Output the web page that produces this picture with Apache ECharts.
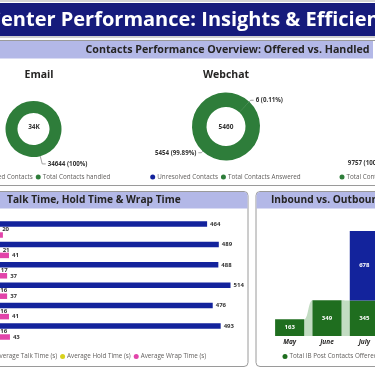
<!DOCTYPE html>
<html><head><meta charset="utf-8">
<script src="https://cdn.jsdelivr.net/npm/echarts@6/dist/echarts.min.js"></script>
<style>html,body{margin:0;padding:0;background:#fff}#c{width:375px;height:375px}</style>
</head><body><div id="c"></div>
<script>
// ---------- data ----------
const emailCats = ['Unresolved Contacts', 'Total Contacts handled'];
const emailValues = [0, 34644];
const webchatCats = ['Unresolved Contacts', 'Total Contacts Answered'];
const webchatValues = [6, 5454];
const thirdCats = ['Total Contacts Answered'];
const thirdValues = [9757];

const timeCats = ['May', 'June', 'July', 'August', 'September', 'October'];
const talkTime = [464, 489, 488, 514, 476, 493];
const holdTime = [20, 21, 17, 16, 16, 16];
const wrapTime = [28, 41, 37, 37, 41, 43];

const monthCats = ['May', 'June', 'July'];
const ibOffered = [163, 349, 345];
const obOffered = [0, 0, 678];

// ---------- style ----------
const FONT = '"Open Sans", "Noto Sans", sans-serif';
const NAVY = '#13239c', GREEN = '#2e7d3a', BARGREEN = '#1f6e1f', PINK = '#e244aa', YELLOW = '#d8d21c';
const HEAD = '#b3b8e7', TXT = '#252423', LEG = '#605e5c', BORDER = '#9a9a9a';

function measure(t, font) {
  const c = document.createElement('canvas').getContext('2d');
  c.font = font; return c.measureText(t).width;
}
const titleFont = 'bold 20px "Open Sans"';
const titleLeft = 1 - measure('Contact C', titleFont);

const chart = echarts.init(document.getElementById('c'), null, {renderer: 'canvas'});

const pieLabel = {fontSize: 6.2, fontWeight: 'bold', color: '#333', fontFamily: FONT, formatter: '{c} ({d}%)'};
const pieLine = {lineStyle: {color: '#8a8a8a', width: 0.8}};
const legStyle = {fontSize: 6.3, color: LEG, fontFamily: FONT, padding: [0, 0, 0, -3]};
const legBase = {icon: 'circle', itemWidth: 5, itemHeight: 5, itemGap: 3, padding: 0, textStyle: legStyle, selectedMode: false, width: 600, orient: 'horizontal'};

function pieData(cats, vals, colors) {
  return cats.map((n, i) => ({name: n, value: vals[i], itemStyle: {color: colors[i]},
    label: vals[i] === 0 ? {show: false} : undefined, labelLine: vals[i] === 0 ? {show: false} : undefined}));
}

const ribbonData = ibOffered.slice(0, -1).map((v, i) => [i, v, ibOffered[i + 1]]);

const option = {
  animation: false,
  textStyle: {fontFamily: FONT},
  graphic: [
    {type: 'rect', shape: {x: 0, y: 0, width: 375, height: 2}, style: {fill: '#d4d4d4'}},
    {type: 'rect', shape: {x: 0, y: 3, width: 375, height: 33}, style: {fill: '#161b7c'}},
    {type: 'rect', shape: {x: 0, y: 36, width: 375, height: 2}, style: {fill: '#cfcfcf'}},
    {type: 'text', x: titleLeft, y: 20, style: {text: 'Contact Center Performance: Insights & Efficiency', font: titleFont, fill: '#fff', verticalAlign: 'middle'}},
    {type: 'rect', shape: {x: 0, y: 40, width: 375, height: 1}, style: {fill: BORDER}},
    {type: 'rect', shape: {x: 0, y: 41, width: 373, height: 17.5}, style: {fill: HEAD}},
    {type: 'text', x: 227.5, y: 50, style: {text: 'Contacts Performance Overview: Offered vs. Handled', font: 'bold 10.7px "Open Sans"', fill: TXT, align: 'center', verticalAlign: 'middle'}},
    {type: 'text', x: 39, y: 75, style: {text: 'Email', font: 'bold 10.5px "Open Sans"', fill: TXT, align: 'center', verticalAlign: 'middle'}},
    {type: 'text', x: 226, y: 75, style: {text: 'Webchat', font: 'bold 10.5px "Open Sans"', fill: TXT, align: 'center', verticalAlign: 'middle'}},
    {type: 'text', x: 34, y: 127, style: {text: Math.floor(emailValues.reduce((a, b) => a + b, 0) / 1000) + 'K', font: 'bold 6.5px "Open Sans"', fill: '#333', align: 'center', verticalAlign: 'middle'}},
    {type: 'text', x: 226, y: 127, style: {text: String(webchatValues.reduce((a, b) => a + b, 0)), font: 'bold 6.5px "Open Sans"', fill: '#333', align: 'center', verticalAlign: 'middle'}},
    {type: 'rect', shape: {x: 0, y: 185, width: 375, height: 1}, style: {fill: BORDER}},
    // bottom panels
    {type: 'rect', shape: {x: -6, y: 191.5, width: 254, height: 175, r: 4}, style: {fill: 'none', stroke: BORDER, lineWidth: 1}},
    {type: 'rect', shape: {x: -5.5, y: 192, width: 253, height: 16.5, r: [3.5, 3.5, 0, 0]}, style: {fill: HEAD}},
    {type: 'text', x: 7, y: 200.5, style: {text: 'Talk Time, Hold Time & Wrap Time', font: 'bold 10.2px "Open Sans"', fill: TXT, verticalAlign: 'middle'}},
    {type: 'rect', shape: {x: 256, y: 191.5, width: 130, height: 175, r: 4}, style: {fill: 'none', stroke: BORDER, lineWidth: 1}},
    {type: 'rect', shape: {x: 256.5, y: 192, width: 129, height: 16.5, r: [3.5, 3.5, 0, 0]}, style: {fill: HEAD}},
    {type: 'text', x: 271, y: 200.5, style: {text: 'Inbound vs. Outbound Contacts', font: 'bold 10.2px "Open Sans"', fill: TXT, verticalAlign: 'middle'}}
  ],
  legend: [
    Object.assign({data: emailCats, left: -35, top: 174}, legBase),
    Object.assign({data: webchatCats, left: 150.2, top: 174}, legBase),
    Object.assign({data: thirdCats, left: 339.5, top: 174}, legBase),
    Object.assign({data: ['Average Talk Time (s)', 'Average Hold Time (s)', 'Average Wrap Time (s)'], left: -11.5, top: 353.5}, legBase),
    Object.assign({data: ['Total IB Post Contacts Offered', 'Total OB Post Contacts Offered'], left: 282.5, top: 353.5}, legBase)
  ],
  grid: [
    {left: -10.2, top: 219.3, width: 281, height: 122.4, outerBoundsMode: 'none', containLabel: false},
    {left: 271, top: 223, width: 112, height: 113, outerBoundsMode: 'none', containLabel: false}
  ],
  xAxis: [
    {gridIndex: 0, type: 'value', min: 0, max: 600, show: false},
    {gridIndex: 1, type: 'category', data: monthCats, axisLine: {show: false}, axisTick: {show: false},
      axisLabel: {fontSize: 6.5, fontWeight: 'bold', fontStyle: 'italic', color: TXT, margin: 3}}
  ],
  yAxis: [
    {gridIndex: 0, type: 'category', data: timeCats, inverse: true, show: false},
    {gridIndex: 1, type: 'value', min: 0, max: 1100, show: false}
  ],
  series: [
    {type: 'pie', name: 'Email', center: [33.5, 129], radius: [16, 28], startAngle: 104, data: pieData(emailCats, emailValues, [NAVY, GREEN]),
      label: Object.assign({distanceToLabelLine: 2}, pieLabel), labelLine: Object.assign({length: 8, length2: 3.5}, pieLine)},
    {type: 'pie', name: 'Webchat', center: [226, 126.5], radius: [19.5, 34], startAngle: 47, data: pieData(webchatCats, webchatValues, [NAVY, GREEN]),
      label: Object.assign({distanceToLabelLine: 2}, pieLabel), labelLine: Object.assign({length: 2, length2: 3}, pieLine)},
    {type: 'pie', name: 'Other', center: [425, 127], radius: [19.5, 34], startAngle: 60, data: pieData(thirdCats, thirdValues, [GREEN]),
      label: Object.assign({distanceToLabelLine: 2}, pieLabel), labelLine: Object.assign({length: 8, length2: 18}, pieLine)},

    {type: 'bar', name: 'Average Talk Time (s)', xAxisIndex: 0, yAxisIndex: 0, data: talkTime, barWidth: 5.5, barGap: '0%', itemStyle: {color: NAVY},
      label: {show: true, position: 'right', distance: 3, fontSize: 6, fontWeight: 'bold', color: '#333'}},
    {type: 'bar', name: 'Average Hold Time (s)', xAxisIndex: 0, yAxisIndex: 0, data: holdTime, barWidth: 5.5, barGap: '0%', itemStyle: {color: YELLOW},
      label: {show: true, position: 'right', distance: 3, fontSize: 6, fontWeight: 'bold', color: '#333'}},
    {type: 'bar', name: 'Average Wrap Time (s)', xAxisIndex: 0, yAxisIndex: 0, barWidth: 5.5, barGap: '0%', itemStyle: {color: PINK},
      data: wrapTime.map((v, i) => i === 0 ? {value: v, label: {show: false}} : v),
      label: {show: true, position: 'right', distance: 3, fontSize: 6, fontWeight: 'bold', color: '#333'}},

    {type: 'custom', xAxisIndex: 1, yAxisIndex: 1, data: ribbonData, z: 1, silent: true,
      renderItem: function (params, api) {
        const i = api.value(0);
        const a = api.coord([i, api.value(1)]);
        const b = api.coord([i + 1, api.value(2)]);
        const base = api.coord([i, 0])[1];
        const bw = api.size([1, 0])[0] * 0.78;
        const x1 = a[0] + bw / 2, x2 = b[0] - bw / 2, xm = (x1 + x2) / 2;
        return {type: 'path', shape: {pathData: 'M' + x1 + ',' + a[1] + ' C' + xm + ',' + a[1] + ' ' + xm + ',' + b[1] + ' ' + x2 + ',' + b[1] + ' L' + x2 + ',' + base + ' L' + x1 + ',' + base + ' Z'},
          style: {fill: '#c2dcc2'}};
      }},
    {type: 'bar', name: 'Total IB Post Contacts Offered', xAxisIndex: 1, yAxisIndex: 1, stack: 'c', data: ibOffered, barWidth: '78%', z: 3, itemStyle: {color: BARGREEN},
      label: {show: true, position: 'inside', fontSize: 6, fontWeight: 'bold', color: '#fff'}},
    {type: 'bar', name: 'Total OB Post Contacts Offered', xAxisIndex: 1, yAxisIndex: 1, stack: 'c', data: obOffered, barWidth: '78%', z: 3, itemStyle: {color: NAVY},
      label: {show: true, position: 'inside', fontSize: 6, fontWeight: 'bold', color: '#fff', formatter: p => p.value ? p.value : ''}}
  ]
};
chart.setOption(option);
</script>
</body></html>
